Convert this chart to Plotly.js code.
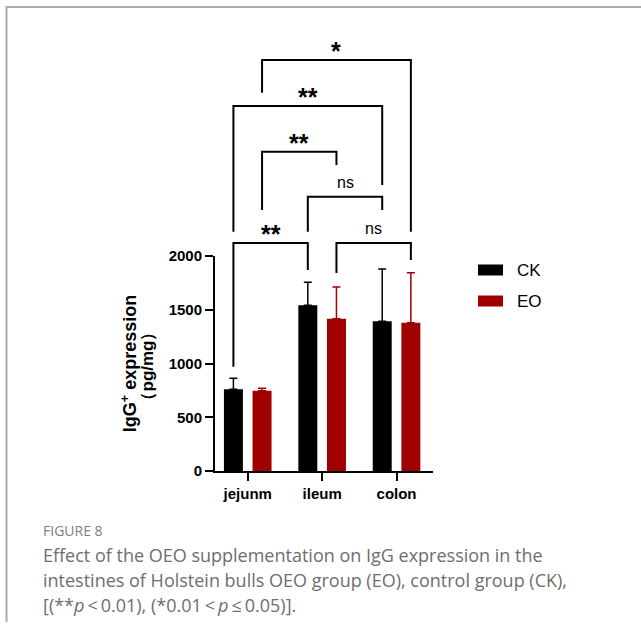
<!DOCTYPE html>
<html><head><meta charset="utf-8">
<script src="https://cdn.plot.ly/plotly-3.0.1.min.js"></script>
<style>html,body{margin:0;padding:0;background:#fff}#chart{width:641px;height:637px}</style>
</head><body><div id="chart"></div>
<script>
// ---- data ----
const categories = ['jejunm', 'ileum', 'colon'];
const seriesNames = ['CK', 'EO'];
const ckValues = [760, 1541, 1392];
const ckErrors = [102, 214, 487];
const eoValues = [747, 1417, 1380];
const eoErrors = [22, 295, 465];
const noLowerError = [0, 0, 0];
const yTickValues = [0, 500, 1000, 1500, 2000];
const yTickLabels = ['0', '500', '1000', '1500', '2000'];
// significance brackets (pairs compared, bracket height and leg ends in value units)
const bracketFromCat = [0, 1, 1, 0, 0, 0];
const bracketFromSeries = ['CK', 'EO', 'CK', 'EO', 'CK', 'EO'];
const bracketToCat = [1, 2, 2, 1, 2, 2];
const bracketToSeries = ['CK', 'EO', 'CK', 'EO', 'CK', 'EO'];
const bracketLevel = [2121, 2121, 2552, 2970, 3395, 3823];
const legFromEnd = [970, 1842, 2226, 2428, 2226, 3519];
const legToEnd = [1870, 1963, 2428, 2847, 2660, 2226];
const bracketLabel = ['**', 'ns', 'ns', '**', '**', '*'];
const captionHead = 'FIGURE 8';
const captionLines = [
  'Effect of the OEO supplementation on IgG expression in the',
  'intestines of Holstein bulls OEO group (EO), control group (CK),',
  '[(**<i>p</i>\u2009&lt;\u20090.01), (*0.01\u2009&lt;\u2009<i>p</i>\u2009\u2264\u20090.05)].'
];

// ---- geometry / style ----
const W = 641, H = 637;
const M = {l: 215, r: 208, t: 256, b: 166};
const PW = W - M.l - M.r, PH = H - M.t - M.b;
const YMAX = 2000;
const BAR_W = 0.255;
const OFFSET = {CK: -0.1925, EO: 0.1925};
const COLORS = {CK: '#000000', EO: '#a00000'};
const FONT = 'Liberation Sans, Arial, sans-serif';
const px = x => (x - M.l) / PW;            // pixel -> paper x
const py = y => (M.t + PH - y) / PH;       // pixel -> paper y
const vy = v => v / YMAX;                  // value -> paper y

const traces = [
  {type: 'bar', name: 'CK', x: [0, 1, 2], y: ckValues,
   offset: OFFSET.CK - BAR_W / 2, width: BAR_W,
   marker: {color: COLORS.CK, line: {width: 0}},
   error_y: {type: 'data', array: ckErrors, arrayminus: noLowerError, symmetric: false,
             color: COLORS.CK, thickness: 1.5, width: 4},
   showlegend: false, hoverinfo: 'skip'},
  {type: 'bar', name: 'EO', x: [0, 1, 2], y: eoValues,
   offset: OFFSET.EO - BAR_W / 2, width: BAR_W,
   marker: {color: COLORS.EO, line: {width: 0}},
   error_y: {type: 'data', array: eoErrors, arrayminus: noLowerError, symmetric: false,
             color: COLORS.EO, thickness: 1.5, width: 4},
   showlegend: false, hoverinfo: 'skip'}
];

const shapes = [];
const annotations = [];

// brackets
for (let i = 0; i < bracketLabel.length; i++) {
  const xa = bracketFromCat[i] + OFFSET[bracketFromSeries[i]];
  const xb = bracketToCat[i] + OFFSET[bracketToSeries[i]];
  const top = vy(bracketLevel[i]);
  shapes.push({type: 'path', xref: 'x', yref: 'paper',
    path: `M${xa},${vy(legFromEnd[i])} L${xa},${top} L${xb},${top} L${xb},${vy(legToEnd[i])}`,
    line: {color: '#000', width: 2}});
  const isStar = bracketLabel[i].indexOf('*') >= 0;
  annotations.push({xref: 'x', yref: 'paper', x: (xa + xb) / 2, y: top,
    text: bracketLabel[i], showarrow: false, xanchor: 'center', yanchor: 'middle',
    yshift: isStar ? 9 : 14,
    font: isStar ? {family: FONT, size: 25, color: '#000', weight: 'bold'}
                 : {family: FONT, size: 16, color: '#000'}});
}

// legend (manual, to match the wide swatches)
const legendY = [270, 301];
seriesNames.forEach((s, i) => {
  shapes.push({type: 'rect', xref: 'paper', yref: 'paper',
    x0: px(478), x1: px(503), y0: py(legendY[i] - 5.5), y1: py(legendY[i] + 5.5),
    fillcolor: COLORS[s], line: {width: 0}});
  annotations.push({xref: 'paper', yref: 'paper', x: px(515), y: py(legendY[i]),
    text: s, showarrow: false, xanchor: 'left', yanchor: 'middle',
    font: {family: FONT, size: 17, color: '#000'}});
});

// y title second line
annotations.push({xref: 'paper', yref: 'paper', x: px(146.5), y: py(366),
  text: '（pg/mg）', textangle: -90, showarrow: false, xanchor: 'center', yanchor: 'middle',
  font: {family: FONT, size: 17, color: '#000', weight: 'bold'}});

// caption
annotations.push({xref: 'paper', yref: 'paper', x: px(41), y: py(530),
  text: captionHead, showarrow: false, xanchor: 'left', yanchor: 'middle',
  font: {family: 'Open Sans, sans-serif', size: 14, color: '#808080'}});
const capY = [555, 580, 605];
captionLines.forEach((t, i) => {
  annotations.push({xref: 'paper', yref: 'paper', x: px(41), y: py(capY[i]),
    text: t, showarrow: false, xanchor: 'left', yanchor: 'middle',
    font: {family: 'Open Sans, sans-serif', size: 18, color: '#6e6e6e'}});
});

// frame
shapes.push({type: 'line', xref: 'paper', yref: 'paper', x0: px(6), x1: px(641), y0: py(7), y1: py(7),
  line: {color: '#ababab', width: 2}});
shapes.push({type: 'line', xref: 'paper', yref: 'paper', x0: px(6.5), x1: px(6.5), y0: py(6), y1: py(622),
  line: {color: '#ababab', width: 2}});

const layout = {
  width: W, height: H, margin: M,
  paper_bgcolor: '#fff', plot_bgcolor: '#fff',
  showlegend: false, barmode: 'group',
  font: {family: FONT, color: '#000'},
  xaxis: {type: 'linear', range: [-0.44, 2.49], tickvals: [0, 1, 2], ticktext: categories,
    showgrid: false, zeroline: false, showline: true, linecolor: '#000', linewidth: 2,
    ticks: 'outside', ticklen: 8, tickwidth: 2, tickcolor: '#000',
    tickfont: {family: FONT, size: 15, color: '#000', weight: 'bold'}, fixedrange: true},
  yaxis: {range: [0, YMAX], tickvals: yTickValues, ticktext: yTickLabels,
    showgrid: false, zeroline: false, showline: true, linecolor: '#000', linewidth: 2,
    ticks: 'outside', ticklen: 8, tickwidth: 2, tickcolor: '#000',
    tickfont: {family: FONT, size: 15, color: '#000', weight: 'bold'},
    title: {text: 'IgG<sup>+</sup> expression', standoff: 27,
            font: {family: FONT, size: 18, color: '#000', weight: 'bold'}},
    fixedrange: true},
  shapes: shapes, annotations: annotations
};

Plotly.newPlot('chart', traces, layout, {displayModeBar: false, staticPlot: true});
</script></body></html>
